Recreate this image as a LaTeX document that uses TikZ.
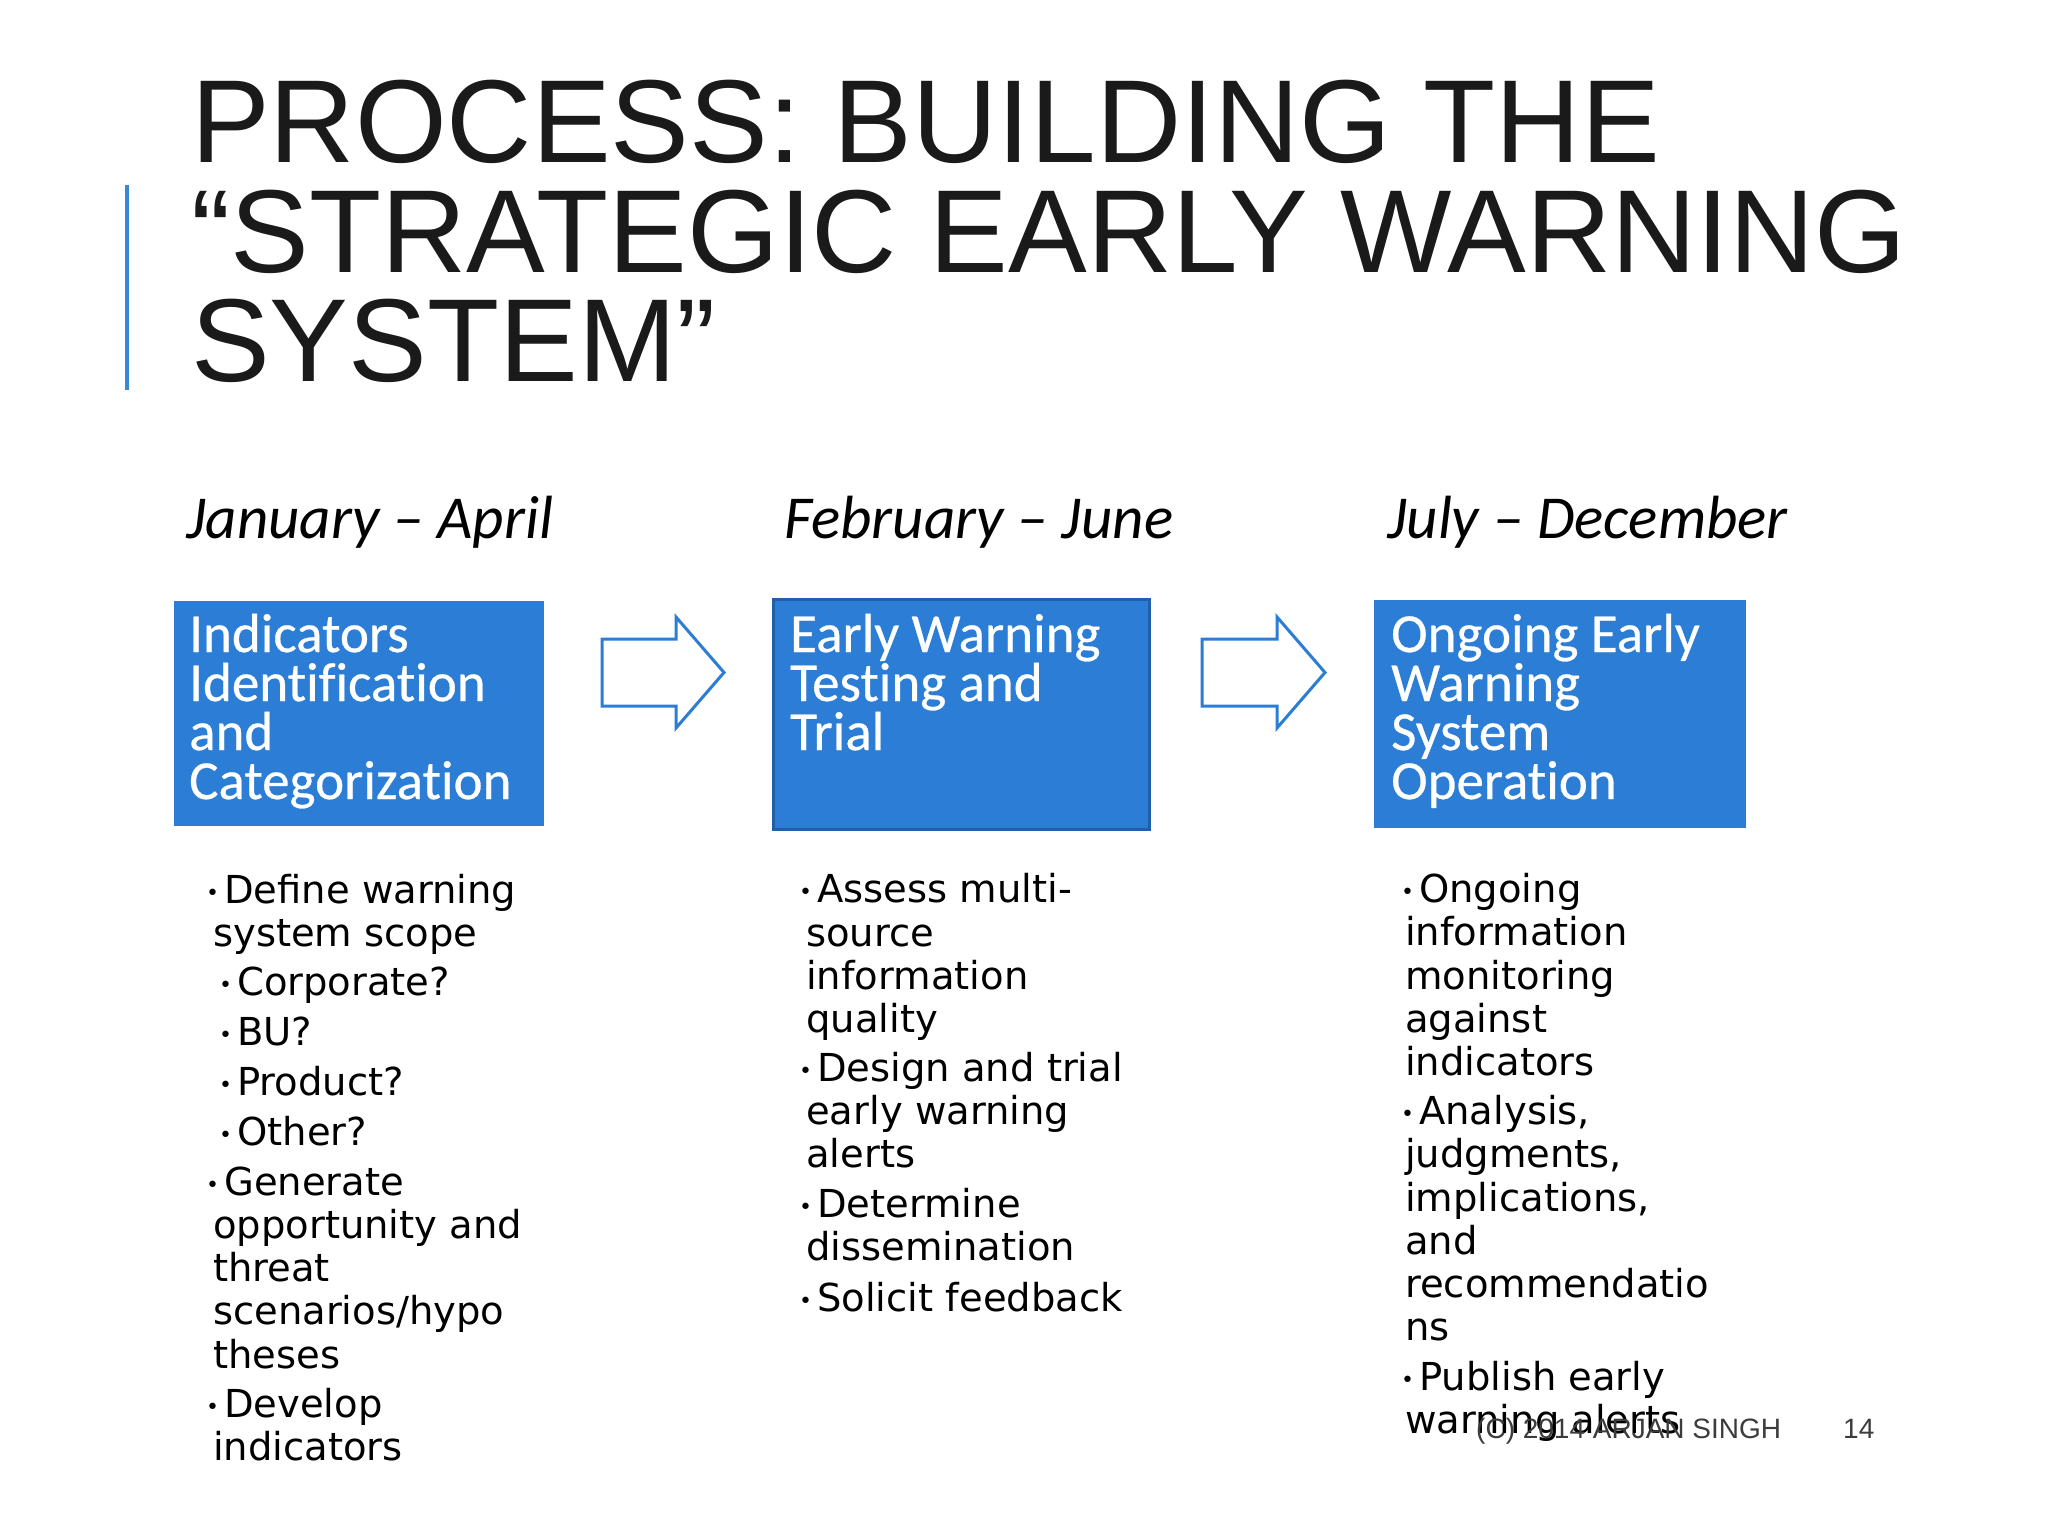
\documentclass[tikz,border=0pt]{standalone}
\usepackage{fontspec}
\setmainfont{DejaVu Sans}
\newfontfamily\titlefont{Liberation Sans}
\newfontfamily\boxfont{Carlito}[Ligatures={NoCommon}]
\newfontfamily\boxheadfont{Carlito}[Ligatures={NoCommon}, FakeBold=0.5]
\definecolor{boxblue}{RGB}{44,125,213}
\definecolor{boxedge}{RGB}{33,95,170}
\definecolor{barblue}{RGB}{58,134,216}
\definecolor{titleink}{RGB}{26,26,26}
\definecolor{footink}{RGB}{60,60,60}
\newcommand{\bulletmark}{\makebox[18pt][l]{\raisebox{2.5pt}{\fontsize{22}{22}\selectfont •}}}
\tikzset{
  titleline/.style={font=\titlefont\fontsize{118}{118}\selectfont, text=titleink, anchor=base west, inner sep=0pt},
  datelabel/.style={font=\boxfont\itshape\fontsize{61}{61}\selectfont, text=black, anchor=base west, inner sep=0pt},
  stagebox/.style={fill=boxblue, anchor=north west, inner sep=0pt},
  boxtext/.style={font=\boxheadfont\fontsize{55}{55}\selectfont, text=white, anchor=base west, inner sep=0pt},
  bodyline/.style={font=\fontsize{38.5}{38.5}\selectfont, text=black, anchor=base west, inner sep=0pt},
  blockarrow/.style={draw=boxblue, fill=white, line width=3pt, line join=miter},
  footer/.style={font=\titlefont\fontsize{28}{28}\selectfont, text=footink, anchor=base west, inner sep=0pt}
}
\begin{document}
\begin{tikzpicture}[x=1pt,y=-1pt]
\useasboundingbox (0,0) rectangle (2048,1536);
\fill[white] (0,0) rectangle (2048,1536);

% accent bar
\draw[barblue, line width=3.5pt] (127,185) -- (127,390);

% title
\node[titleline] (t1) at (191,163) {PROCESS: BUILDING THE};
\node[titleline] (t2) at (191,272) {“STRATEGIC EARLY WARNING};
\node[titleline] (t3) at (191,381) {SYSTEM”};

% dates
\node[datelabel] (d1) at (186,538) {January – April};
\node[datelabel] (d2) at (784,538) {February – June};
\node[datelabel] (d3) at (1387,538) {July – December};

% boxes
\node[stagebox, minimum width=370pt, minimum height=225pt] (b1) at (174,601) {};
\node[stagebox, draw=boxedge, line width=3pt, minimum width=376pt, minimum height=230pt] (b2) at (772,598) {};
\node[stagebox, minimum width=372pt, minimum height=228pt] (b3) at (1374,600) {};

\node[boxtext] (b1a) at (189,652) {Indicators};
\node[boxtext] (b1b) at (189,701) {Identification};
\node[boxtext] (b1c) at (189,750) {and};
\node[boxtext] (b1d) at (189,799) {Categorization};

\node[boxtext] (b2a) at (790,652) {Early Warning};
\node[boxtext] (b2b) at (790,701) {Testing and};
\node[boxtext] (b2c) at (790,750) {Trial};

\node[boxtext] (b3a) at (1391,652) {Ongoing Early};
\node[boxtext] (b3b) at (1391,701) {Warning};
\node[boxtext] (b3c) at (1391,750) {System};
\node[boxtext] (b3d) at (1391,799) {Operation};

% block arrows
\draw[blockarrow] (602,639) -- (676,639) -- (676,617) -- (724,672.5) -- (676,728) -- (676,706) -- (602,706) -- cycle;
\draw[blockarrow] (1202,639) -- (1277,639) -- (1277,617) -- (1325,672.5) -- (1277,728) -- (1277,706) -- (1202,706) -- cycle;

% left column
\node[bodyline] (l1) at (206,903) {\bulletmark Define warning};
\node[bodyline] (l2) at (213,946) {system scope};
\node[bodyline] (l3) at (219,995) {\bulletmark Corporate?};
\node[bodyline] (l4) at (219,1045) {\bulletmark BU?};
\node[bodyline] (l5) at (219,1095) {\bulletmark Product?};
\node[bodyline] (l6) at (219,1145) {\bulletmark Other?};
\node[bodyline] (l7) at (206,1195) {\bulletmark Generate};
\node[bodyline] (l8) at (213,1238) {opportunity and};
\node[bodyline] (l9) at (213,1281) {threat};
\node[bodyline] (l10) at (213,1324) {scenarios/hypo};
\node[bodyline] (l11) at (213,1368) {theses};
\node[bodyline] (l12) at (206,1417) {\bulletmark Develop};
\node[bodyline] (l13) at (213,1460) {indicators};

% middle column
\node[bodyline] (m1) at (799,902) {\bulletmark Assess multi-};
\node[bodyline] (m2) at (806,946) {source};
\node[bodyline] (m3) at (806,989) {information};
\node[bodyline] (m4) at (806,1032) {quality};
\node[bodyline] (m5) at (799,1081) {\bulletmark Design and trial};
\node[bodyline] (m6) at (806,1124) {early warning};
\node[bodyline] (m7) at (806,1167) {alerts};
\node[bodyline] (m8) at (799,1217) {\bulletmark Determine};
\node[bodyline] (m9) at (806,1260) {dissemination};
\node[bodyline] (m10) at (799,1311) {\bulletmark Solicit feedback};

% right column
\node[bodyline] (r1) at (1401,902) {\bulletmark Ongoing};
\node[bodyline] (r2) at (1405,945) {information};
\node[bodyline] (r3) at (1405,989) {monitoring};
\node[bodyline] (r4) at (1405,1032) {against};
\node[bodyline] (r5) at (1405,1075) {indicators};
\node[bodyline] (r6) at (1401,1124) {\bulletmark Analysis,};
\node[bodyline] (r7) at (1405,1167) {judgments,};
\node[bodyline] (r8) at (1405,1211) {implications,};
\node[bodyline] (r9) at (1405,1254) {and};
\node[bodyline] (r10) at (1405,1297) {recommendatio};
\node[bodyline] (r11) at (1405,1340) {ns};
\node[bodyline] (r12) at (1401,1390) {\bulletmark Publish early};
\node[bodyline] (r13) at (1405,1433) {warning alerts};

% footer
\node[footer] (f1) at (1476,1438) {(C) 2014 ARJAN SINGH};
\node[footer] (f2) at (1843,1438) {14};
\end{tikzpicture}
\end{document}
